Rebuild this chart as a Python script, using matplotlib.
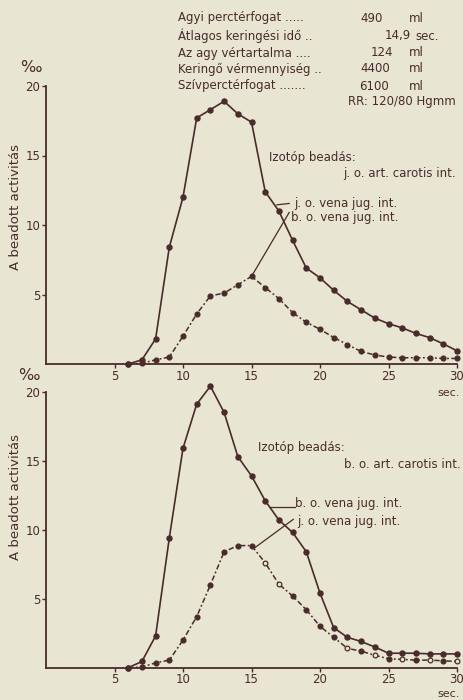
import matplotlib
matplotlib.use("Agg")
import matplotlib.pyplot as plt

# ---- data ----
secs = list(range(6, 31))
top_solid = [0, 0.3, 1.8, 8.4, 12.0, 17.7, 18.3, 18.9, 18.0, 17.4, 12.4, 11.0, 8.9,
             6.9, 6.2, 5.3, 4.5, 3.9, 3.3, 2.9, 2.6, 2.2, 1.9, 1.45, 0.95]
top_dashed = [0, 0.05, 0.3, 0.5, 2.0, 3.6, 4.9, 5.1, 5.7, 6.3, 5.5, 4.7, 3.7,
              3.0, 2.5, 1.9, 1.4, 0.9, 0.65, 0.5, 0.45, 0.45, 0.45, 0.4, 0.4]
bot_solid = [0, 0.45, 2.3, 9.4, 15.9, 19.1, 20.4, 18.5, 15.3, 13.9, 12.1, 10.7, 9.8,
             8.4, 5.4, 2.9, 2.2, 1.9, 1.5, 1.05, 1.05, 1.05, 1.0, 1.0, 1.0]
bot_dashed = [0, 0.05, 0.35, 0.55, 2.0, 3.7, 6.0, 8.4, 8.85, 8.85, 7.6, 6.05, 5.2,
              4.2, 3.0, 2.2, 1.4, 1.2, 0.9, 0.65, 0.6, 0.55, 0.55, 0.5, 0.45]
x_ticks = [5, 10, 15, 20, 25, 30]
y_ticks = [5, 10, 15, 20]

info_labels = ["Agyi perctérfogat .....", "Átlagos keringési idő ..", "Az agy vértartalma ....",
               "Keringő vérmennyiség ..", "Szívperctérfogat ......."]
info_values = ["490", "14,9", "124", "4400", "6100"]
info_units = ["ml", "sec.", "ml", "ml", "ml"]
rr_text = "RR: 120/80 Hgmm"

top_title = ["Izotóp beadás:", "j. o. art. carotis int."]
top_series = ["j. o. vena jug. int.", "b. o. vena jug. int."]
bot_title = ["Izotóp beadás:", "b. o. art. carotis int."]
bot_series = ["b. o. vena jug. int.", "j. o. vena jug. int."]
ylabel = "A beadott activitás"

# ---- style ----
BG = "#e8e5d2"
INK = "#4a2b2b"
plt.rcParams["font.family"] = ["DejaVu Sans"]

W, H = 463, 700
fig = plt.figure(figsize=(W / 100, H / 100), dpi=100, facecolor=BG)

def px(x0, y0):
    return x0 / W, 1 - y0 / H

dash = (0, (3.5, 1.6, 1.2, 1.6))
FS = 8.5

def make_axes(y0_px, y20_px):
    left = 46 / W
    width = (457 - 46) / W
    bottom = 1 - y0_px / H
    height = (y0_px - y20_px) / H
    ax = fig.add_axes([left, bottom, width, height])
    ax.set_facecolor("none")
    ax.set_xlim(0, 30)
    ax.set_ylim(0, 20)
    for s in ("top", "right"):
        ax.spines[s].set_visible(False)
    for s in ("left", "bottom"):
        ax.spines[s].set_color(INK)
        ax.spines[s].set_linewidth(1.3)
    ax.set_xticks(x_ticks)
    ax.set_yticks(y_ticks)
    ax.tick_params(axis="both", colors=INK, labelcolor=INK, labelsize=8.5,
                   width=1.0, length=3, direction="out", pad=1)
    return ax

ax1 = make_axes(364, 86)
ax2 = make_axes(667.7, 391.7)

fig.text(*px(16, 207), ylabel, color=INK, fontsize=9.5, rotation=90, ha="center", va="center")
fig.text(*px(16, 497), ylabel, color=INK, fontsize=9.5, rotation=90, ha="center", va="center")

def draw(ax, solid, dashed, open_idx):
    ax.plot(secs, solid, color=INK, lw=1.2, marker="o", ms=3.6, mfc=INK, mec=INK, clip_on=False)
    ax.plot(secs, dashed, color=INK, lw=1.1, ls=dash, clip_on=False)
    filled = [i for i in range(len(secs)) if i not in open_idx]
    ax.plot([secs[i] for i in filled], [dashed[i] for i in filled], ls="none",
            marker="o", ms=3.4, mfc=INK, mec=INK, clip_on=False)
    if open_idx:
        ax.plot([secs[i] for i in open_idx], [dashed[i] for i in open_idx], ls="none",
                marker="o", ms=3.4, mfc=BG, mec=INK, mew=0.9, clip_on=False)

draw(ax1, top_solid, top_dashed, [])
draw(ax2, bot_solid, bot_dashed, [10, 11, 16, 18, 20, 22, 24])

# per-mille marks and sec labels
fig.text(*px(31, 68), "‰", color=INK, fontsize=11.5, ha="center", va="center")
fig.text(*px(29, 375), "‰", color=INK, fontsize=11.5, ha="center", va="center")
fig.text(*px(449, 393), "sec.", color=INK, fontsize=8, ha="center", va="center")
fig.text(*px(449, 694), "sec.", color=INK, fontsize=8, ha="center", va="center")

# info block
ys = [18, 36, 53, 69, 86]
val_x = [372, 398, 382, 375, 374]
unit_x = [409, 415, 409, 409, 409]
for y, lab, val, unit, vx, ux in zip(ys, info_labels, info_values, info_units, val_x, unit_x):
    fig.text(*px(178, y), lab, color=INK, fontsize=FS, ha="left", va="center")
    fig.text(*px(vx, y), val, color=INK, fontsize=FS, ha="center", va="center")
    fig.text(*px(ux, y), unit, color=INK, fontsize=FS, ha="left", va="center")
fig.text(*px(456, 102), rr_text, color=INK, fontsize=FS, ha="right", va="center")

# top chart annotations
fig.text(*px(269, 158), top_title[0], color=INK, fontsize=FS, ha="left", va="center")
fig.text(*px(456, 173), top_title[1], color=INK, fontsize=FS, ha="right", va="center")
fig.text(*px(294, 203), top_series[0], color=INK, fontsize=FS, ha="left", va="center")
fig.text(*px(291, 217), top_series[1], color=INK, fontsize=FS, ha="left", va="center")
ax1.plot([16.85, 17.75], [11.45, 11.55], color=INK, lw=0.9, clip_on=False)
ax1.plot([15.0, 17.75], [6.3, 10.9], color=INK, lw=0.9, clip_on=False)

# bottom chart annotations
fig.text(*px(258, 448), bot_title[0], color=INK, fontsize=FS, ha="left", va="center")
fig.text(*px(461, 465), bot_title[1], color=INK, fontsize=FS, ha="right", va="center")
fig.text(*px(295, 503), bot_series[0], color=INK, fontsize=FS, ha="left", va="center")
fig.text(*px(297, 521), bot_series[1], color=INK, fontsize=FS, ha="left", va="center")
ax2.plot([16.35, 18.15], [11.65, 11.65], color=INK, lw=0.9, clip_on=False)
ax2.plot([15.25, 18.05], [8.7, 10.75], color=INK, lw=0.9, clip_on=False)

fig.savefig("out.png", dpi=100, facecolor=BG)
